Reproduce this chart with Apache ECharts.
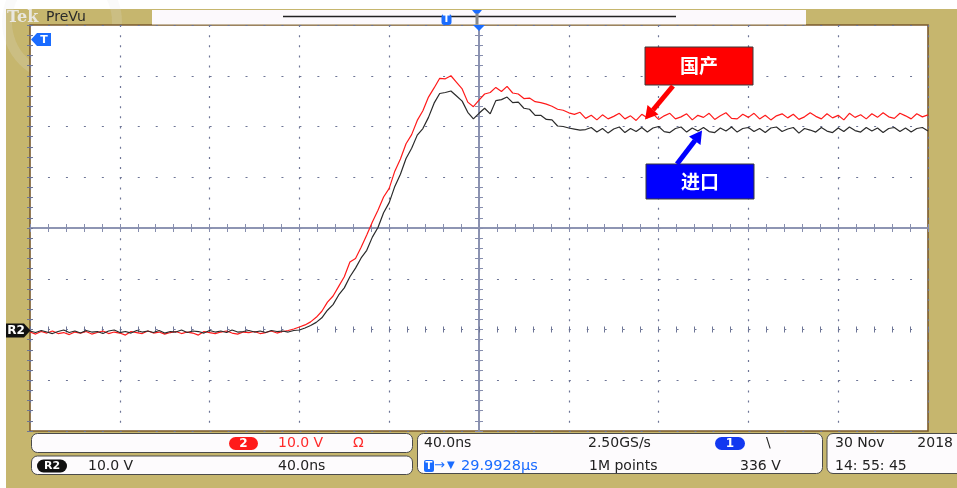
<!DOCTYPE html>
<html>
<head>
<meta charset="utf-8">
<script src="https://cdn.jsdelivr.net/npm/echarts@6/dist/echarts.min.js"></script>
<style>
  html, body { margin: 0; padding: 0; background: #ffffff; }
  #chart { width: 957px; height: 488px; }
</style>
</head>
<body>
<div id="chart"></div>
<script>
// ---- Data (read from the scope capture) ----
// Time axis: 0..400 ns (40 ns/div, 10 div), samples every 2.5 ns
const sampleStepNs = 2.5;
const timeTicksNs = [0, 40, 80, 120, 160, 200, 240, 280, 320, 360, 400];
// Voltage axis: 10 V/div, 8 div, R2 ground at 0 V
const voltTicksV = [-20, -10, 0, 10, 20, 30, 40, 50, 60];

// 国产 (red trace), volts
const guochan = [
  -0.5,-0.9,-0.4,-0.7,-0.3,-0.8,-0.6,-1.0,-0.5,-0.7,
  -0.4,-0.9,-0.6,-0.3,-0.8,-0.5,-0.7,-1.1,-0.4,-0.6,
  -0.8,-0.3,-0.7,-0.5,-0.9,-0.6,-0.4,-0.8,-0.5,-0.7,
  -1.1,-0.4,-0.6,-0.8,-0.5,-0.3,-0.7,-0.9,-0.5,-0.6,
  -0.4,-0.8,-0.6,-0.3,-0.7,-0.4,-0.2,0.1,0.5,0.9,
  1.5,2.4,3.6,5.4,6.6,8.5,10.4,13.3,14.0,16.2,
  18.6,21.2,23.5,26.1,27.8,31.2,33.6,36.6,38.4,41.2,
  43.1,45.8,47.6,49.5,49.4,50.0,48.7,47.4,44.8,43.9,
  45.2,46.4,46.7,47.7,46.9,47.9,46.6,46.4,45.5,45.6,
  44.9,44.7,44.4,44.0,43.4,43.2,42.7,42.4,42.8,41.6,
  42.2,41.3,42.3,41.5,42.0,42.6,41.5,42.1,41.2,42.4,
  41.7,42.5,41.4,42.1,42.6,41.5,41.9,42.5,41.3,42.2,
  41.8,42.6,41.4,42.1,42.7,41.6,41.5,42.4,41.8,42.6,
  41.5,42.2,41.3,42.1,42.5,41.7,42.4,41.4,41.9,42.7,
  42.0,41.5,42.5,41.7,42.2,41.3,42.6,41.8,42.3,41.5,
  42.5,41.8,42.7,41.9,41.6,42.6,42.1,41.5,42.5,41.9,42.3
];
// 进口 (black trace), volts
const jinkou = [
  -0.3,-0.6,-0.2,-0.5,-0.8,-0.4,-0.1,-0.6,-0.3,-0.7,
  -0.2,-0.5,-0.4,-0.8,-0.3,-0.1,-0.6,-0.4,-0.7,-0.2,
  -0.5,-0.3,-0.6,-0.2,-0.7,-0.4,-0.5,-0.1,-0.6,-0.3,
  -0.4,-0.7,-0.2,-0.5,-0.3,-0.6,-0.1,-0.5,-0.4,-0.2,
  -0.5,-0.3,-0.6,-0.2,-0.4,-0.3,-0.5,-0.2,-0.1,0.3,
  0.8,1.4,2.3,3.8,4.9,6.8,8.2,10.4,12.1,14.1,
  15.6,18.2,20.1,23.0,25.0,28.2,30.6,33.7,35.7,38.3,
  39.6,41.8,44.6,46.5,46.7,47.0,46.0,45.0,42.8,41.5,
  42.6,43.6,42.5,45.1,45.3,45.8,44.7,44.8,43.6,43.4,
  42.2,42.2,41.4,41.3,40.1,40.0,39.7,39.5,39.3,39.4,
  39.8,38.9,39.6,38.7,39.5,39.9,38.8,39.6,39.0,39.8,
  38.9,39.7,40.0,39.0,38.8,39.6,39.9,38.9,39.7,39.1,
  39.8,39.0,38.8,39.7,39.1,39.9,38.9,39.6,39.8,39.0,
  39.6,38.8,39.7,39.9,39.0,39.5,39.8,38.7,39.6,39.3,
  38.9,39.8,39.1,38.8,39.7,39.0,39.9,39.2,38.9,39.8,
  39.1,39.7,38.8,39.6,39.8,39.0,39.7,38.9,39.6,39.8,39.1
];

const seriesNames = ['国产', '进口'];

// Readout texts
const ch2Scale = '10.0 V';
const refScale = '10.0 V';
const refTime = '40.0ns';
const horizScale = '40.0ns';
const sampleRate = '2.50GS/s';
const recordLen = '1M points';
const trigLevel = '336 V';
const trigPos = '29.9928\u00b5s';
const dateText = '30 Nov';
const yearText = '2018';
const timeText = '14: 55: 45';

// ---- Chart ----
const timesNs = guochan.map((_, i) => i * sampleStepNs);
const chart = echarts.init(document.getElementById('chart'), null, { renderer: 'canvas' });

const GRID = { left: 30, top: 25, width: 898, height: 406 };
const dotC = '#6d7596';
const axC = '#878eae';
const xMin = timeTicksNs[0], xMax = timeTicksNs[timeTicksNs.length - 1];
const yMin = voltTicksV[0], yMax = voltTicksV[voltTicksV.length - 1];
const xInt = timeTicksNs[1] - timeTicksNs[0];
const yInt = voltTicksV[1] - voltTicksV[0];
const xHalf = (xMax - xMin) / 2, yHalf = (yMax - yMin) / 2;

function edgeAxis(extra) {
  return Object.assign({
    type: 'value', axisLine: { show: false },
    axisTick: { show: true, inside: true, length: 3, lineStyle: { color: dotC } },
    minorTick: { show: true, splitNumber: 5, length: 3, lineStyle: { color: dotC } },
    axisLabel: { show: false }, splitLine: { show: false }
  }, extra);
}
function centerAxis(extra, inside) {
  return Object.assign({
    type: 'value',
    axisLine: { show: true, onZero: true, lineStyle: { color: axC, width: 1.6 } },
    axisTick: { show: true, inside: inside, length: 4, lineStyle: { color: axC } },
    minorTick: { show: true, splitNumber: 5, length: 4, lineStyle: { color: axC } },
    axisLabel: { show: false }, splitLine: { show: false }
  }, extra);
}

const W = '#ffffff';
const F = '"DejaVu Sans", sans-serif';
function txt(x, y, s, fill, font, align) {
  return { type: 'text', z: 120, style: { x: x, y: y, text: s, fill: fill, font: font || ('14px ' + F), align: align || 'left', verticalAlign: 'middle' } };
}

const graphics = [
  // frame
  { type: 'rect', z: -10, shape: { x: 6, y: 9, width: 951, height: 479 }, style: { fill: '#c6b66e' } },
  { type: 'ring', z: -9, shape: { cx: 62, cy: 22, r: 60, r0: 50 }, style: { fill: 'rgba(230,230,230,0.18)' } },
  txt(7, 17.5, 'Tek', '#e9e7df', 'bold 16px "DejaVu Serif", serif'),
  txt(46, 17, 'PreVu', '#2a2a2a', '14px ' + F),
  { type: 'rect', z: 50, shape: { x: 152, y: 10, width: 654, height: 14.5 }, style: { fill: '#fcf9fc' } },
  { type: 'line', z: 60, shape: { x1: 283, y1: 16.5, x2: 676, y2: 16.5 }, style: { stroke: '#222', lineWidth: 1.5 } },
  { type: 'rect', z: 70, shape: { x: 441.5, y: 14, width: 10, height: 11, r: 3 }, style: { fill: '#1a6cff' } },
  txt(446.5, 19.7, 'T', W, 'bold 10px ' + F, 'center'),
  { type: 'rect', z: 70, shape: { x: 475.5, y: 12, width: 3, height: 12.5 }, style: { fill: '#878787' } },
  { type: 'polygon', z: 71, shape: { points: [[472, 10], [482, 10], [479, 13.5], [475, 13.5]] }, style: { fill: '#1a6cff' } },
  { type: 'polygon', z: 100, shape: { points: [[473, 25], [485, 25], [479, 31]] }, style: { fill: '#1a6cff' } },
  // left trigger-level marker
  { type: 'polygon', z: 100, shape: { points: [[31, 39.5], [37, 33], [51, 33], [51, 46], [37, 46]] }, style: { fill: '#1a6cff' } },
  txt(44, 40, 'T', W, 'bold 11px ' + F, 'center'),
  // R2 ground marker
  { type: 'polygon', z: 100, shape: { points: [[6, 323.5], [24, 323.5], [30.5, 330.5], [24, 337.5], [6, 337.5]] }, style: { fill: '#111' } },
  txt(16, 331, 'R2', W, 'bold 12px ' + F, 'center'),
  // annotations
  { type: 'rect', z: 110, shape: { x: 645, y: 47, width: 108, height: 38 }, style: { fill: '#ff0000', stroke: '#3a3a3a', lineWidth: 1 } },
  txt(699, 66, seriesNames[0], W, 'bold 19px "Noto Sans CJK SC", sans-serif', 'center'),
  { type: 'line', z: 110, shape: { x1: 673, y1: 86, x2: 653, y2: 110 }, style: { stroke: '#ff0000', lineWidth: 5 } },
  { type: 'polygon', z: 111, shape: { points: [[645, 119.5], [658.5, 114.5], [647.5, 105]] }, style: { fill: '#ff0000' } },
  { type: 'rect', z: 110, shape: { x: 646, y: 164, width: 108, height: 35 }, style: { fill: '#0000ff', stroke: '#3a3a3a', lineWidth: 1 } },
  txt(700, 182, seriesNames[1], W, 'bold 19px "Noto Sans CJK SC", sans-serif', 'center'),
  { type: 'line', z: 110, shape: { x1: 677, y1: 164, x2: 695, y2: 140.5 }, style: { stroke: '#0000ff', lineWidth: 5 } },
  { type: 'polygon', z: 111, shape: { points: [[702, 130.5], [700.5, 145], [689, 136.5]] }, style: { fill: '#0000ff' } },
  // readout panels
  { type: 'rect', z: 100, shape: { x: 31.5, y: 433.5, width: 381, height: 19, r: 6 }, style: { fill: '#fdfbfd', stroke: '#4a4a4a', lineWidth: 1 } },
  { type: 'rect', z: 100, shape: { x: 31.5, y: 456, width: 381, height: 18.5, r: 6 }, style: { fill: '#fdfbfd', stroke: '#4a4a4a', lineWidth: 1 } },
  { type: 'rect', z: 100, shape: { x: 417.5, y: 433.5, width: 405, height: 40, r: 6 }, style: { fill: '#fdfbfd', stroke: '#4a4a4a', lineWidth: 1 } },
  { type: 'rect', z: 100, shape: { x: 827, y: 433.5, width: 140, height: 40, r: 6 }, style: { fill: '#fdfbfd', stroke: '#4a4a4a', lineWidth: 1 } },
  { type: 'rect', z: 110, shape: { x: 229, y: 437, width: 29, height: 13, r: 6.5 }, style: { fill: '#ff1a1a' } },
  txt(243.5, 443.8, '2', W, 'bold 12px ' + F, 'center'),
  txt(278, 443.5, ch2Scale, '#ff2a2a'),
  txt(353, 443.5, '\u03a9', '#ff2a2a'),
  { type: 'rect', z: 110, shape: { x: 37, y: 459.5, width: 30, height: 13, r: 6.5 }, style: { fill: '#111' } },
  txt(52, 466.2, 'R2', W, 'bold 11px ' + F, 'center'),
  txt(88, 466, refScale, '#222'),
  txt(278, 466, refTime, '#222'),
  txt(424, 443.5, horizScale, '#222'),
  txt(588, 443.5, sampleRate, '#222'),
  { type: 'rect', z: 110, shape: { x: 715, y: 437, width: 30, height: 13, r: 6.5 }, style: { fill: '#1238f0' } },
  txt(730, 443.8, '1', W, 'bold 12px ' + F, 'center'),
  txt(766, 443, '\\', '#222'),
  { type: 'rect', z: 110, shape: { x: 424, y: 460, width: 10, height: 12, r: 2 }, style: { fill: '#1a6cff' } },
  txt(429, 466.3, 'T', W, 'bold 10px ' + F, 'center'),
  txt(434, 466, '\u2192', '#1a6cff', '13px ' + F),
  txt(447, 465, '\u25bc', '#1a6cff', '10px ' + F),
  txt(461, 466, trigPos, '#1a6cff', '14.5px ' + F),
  txt(589, 466, recordLen, '#222'),
  txt(740, 466, trigLevel, '#222'),
  txt(835, 443.5, dateText, '#222'),
  txt(953, 443.5, yearText, '#222', '14px ' + F, 'right'),
  txt(835, 466, timeText, '#222')
];

const option = {
  animation: false,
  backgroundColor: '#ffffff',
  grid: [
    Object.assign({ show: true, backgroundColor: '#ffffff', borderColor: '#7a5a2c', borderWidth: 1.6 }, GRID),
    Object.assign({ show: false }, GRID),
    Object.assign({ show: false }, GRID)
  ],
  xAxis: [
    edgeAxis({ gridIndex: 0, min: xMin, max: xMax, interval: xInt, position: 'bottom',
      splitLine: { show: true, lineStyle: { color: dotC, width: 1.2, type: [2, GRID.height / 40 - 2] } } }),
    edgeAxis({ gridIndex: 0, min: xMin, max: xMax, interval: xInt, position: 'top' }),
    centerAxis({ gridIndex: 1, min: -xHalf, max: xHalf, interval: xInt }, true),
    centerAxis({ gridIndex: 2, min: -xHalf, max: xHalf, interval: xInt }, false)
  ],
  yAxis: [
    edgeAxis({ gridIndex: 0, min: yMin, max: yMax, interval: yInt, position: 'left',
      splitLine: { show: true, lineStyle: { color: dotC, width: 1.2, type: [2, GRID.width / 50 - 2] } } }),
    edgeAxis({ gridIndex: 0, min: yMin, max: yMax, interval: yInt, position: 'right' }),
    centerAxis({ gridIndex: 1, min: -yHalf, max: yHalf, interval: yInt }, true),
    centerAxis({ gridIndex: 2, min: -yHalf, max: yHalf, interval: yInt }, false)
  ],
  series: [
    { type: 'line', name: seriesNames[0], xAxisIndex: 0, yAxisIndex: 0, showSymbol: false, z: 5,
      lineStyle: { color: '#ff1a1a', width: 1.2 }, data: timesNs.map((t, i) => [t, guochan[i]]) },
    { type: 'line', name: seriesNames[1], xAxisIndex: 0, yAxisIndex: 0, showSymbol: false, z: 6,
      lineStyle: { color: '#2b2b2b', width: 1.2 }, data: timesNs.map((t, i) => [t, jinkou[i]]) }
  ],
  graphic: { elements: graphics }
};
chart.setOption(option);
</script>
</body>
</html>
